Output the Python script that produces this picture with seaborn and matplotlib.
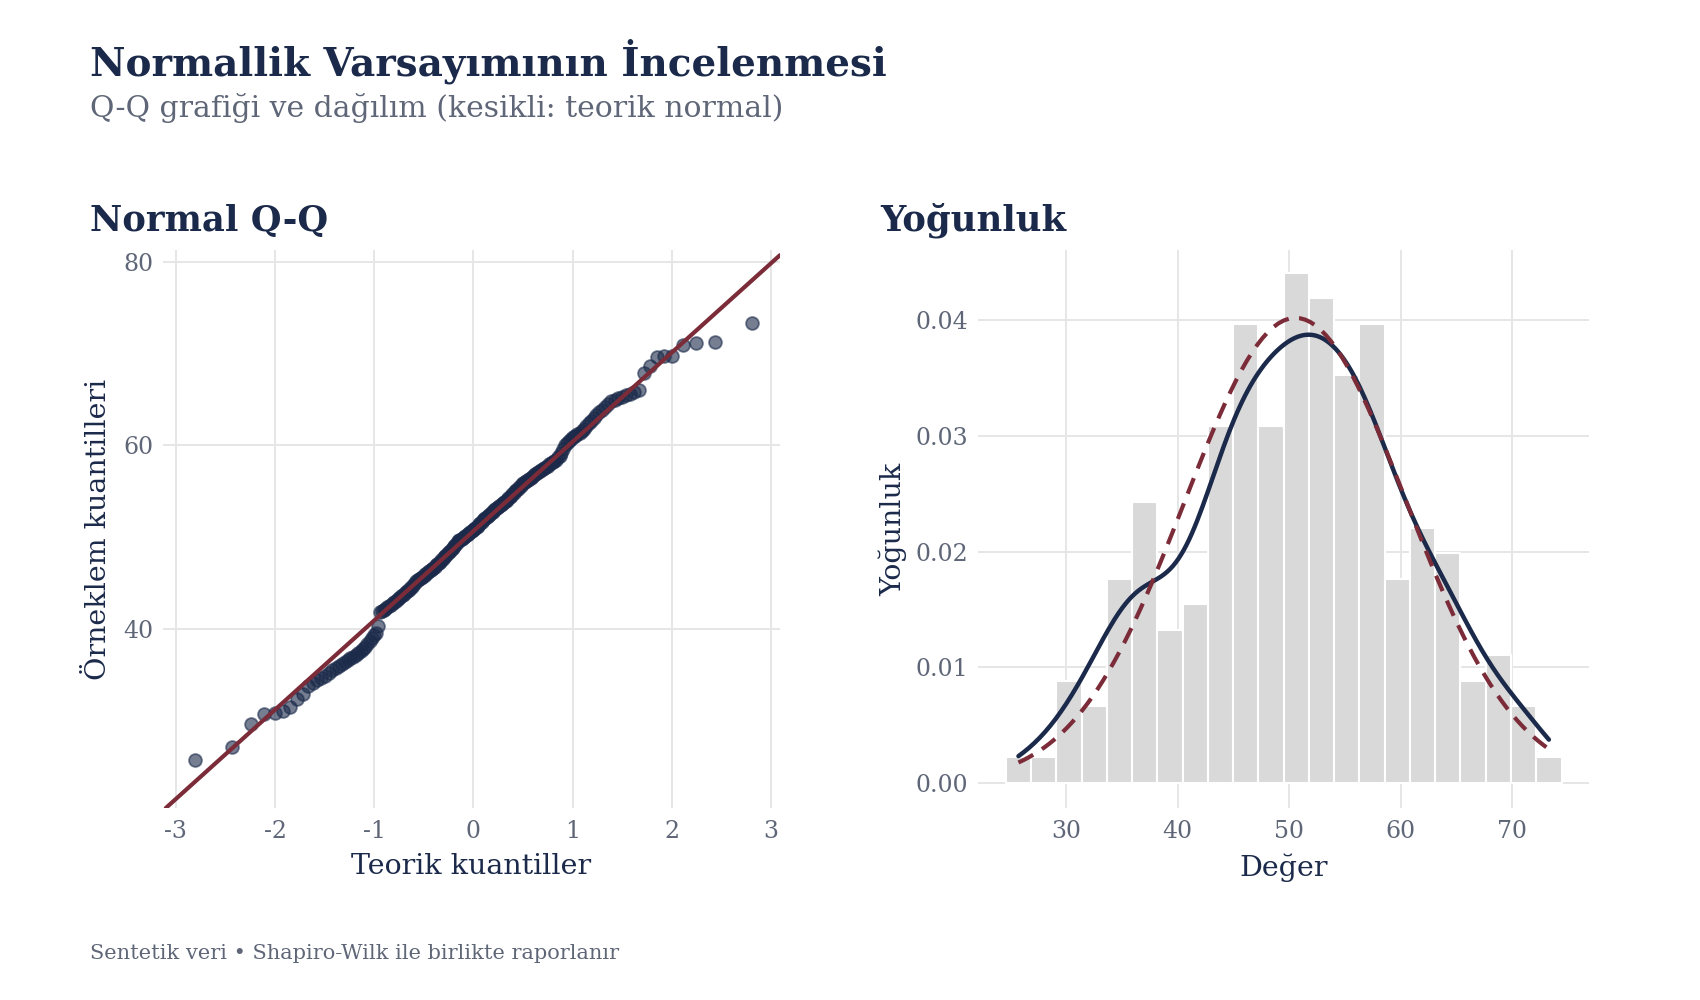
import numpy as np
import pandas as pd
import seaborn as sns
import matplotlib
matplotlib.use('Agg')
import matplotlib.pyplot as plt
from matplotlib.ticker import FormatStrFormatter
from statistics import NormalDist

values = [
    25.7, 27.1, 29.6, 30.7, 30.8, 31.1, 31.5, 32.4, 32.9,
    33.8, 34.1, 34.4, 34.7, 34.9, 35.2, 35.5, 35.8,
    36.0, 36.2, 36.4, 36.6, 36.8, 37.0, 37.2, 37.4, 37.6, 37.8, 38.0,
    38.4, 38.7, 39.0, 39.3, 39.6, 40.3,
    41.9, 42.0, 42.1, 42.2, 42.35, 42.5, 42.65,
    42.8, 42.95, 43.1, 43.25, 43.4, 43.55, 43.7, 43.85, 44.0, 44.15, 44.3, 44.45, 44.6, 44.8,
    45.05, 45.2, 45.3, 45.45, 45.55, 45.7, 45.8, 45.95, 46.05, 46.2, 46.3, 46.45, 46.55, 46.7,
    46.8, 46.95, 47.05, 47.15,
    47.35, 47.5, 47.65, 47.8, 47.95, 48.1, 48.25, 48.4, 48.55, 48.7, 48.85, 49.0, 49.2, 49.4,
    49.55, 49.65, 49.75, 49.85, 49.95, 50.05, 50.15, 50.3, 50.4, 50.5, 50.6, 50.7, 50.8, 50.9,
    51.0, 51.15, 51.25, 51.4, 51.55, 51.7,
    51.85, 51.95, 52.05, 52.2, 52.3, 52.45, 52.55, 52.7, 52.8, 52.95, 53.05, 53.15, 53.3, 53.4,
    53.5, 53.6, 53.75, 53.85, 53.95,
    54.1, 54.25, 54.4, 54.55, 54.7, 54.85, 55.0, 55.15, 55.3, 55.45, 55.6, 55.75, 55.9, 56.0,
    56.1, 56.2,
    56.4, 56.5, 56.6, 56.75, 56.85, 57.0, 57.1, 57.2, 57.35, 57.45, 57.6, 57.7, 57.8, 57.95,
    58.05, 58.2, 58.3, 58.45,
    58.7, 58.9, 59.2, 59.6, 60.0, 60.3, 60.5, 60.7,
    60.9, 61.0, 61.2, 61.4, 61.6, 61.8, 62.1, 62.4, 62.7, 63.0,
    63.3, 63.6, 63.9, 64.2, 64.5, 64.8, 65.0, 65.15, 65.3,
    65.45, 65.6, 65.8, 66.05,
    67.9, 68.7, 69.6, 69.7, 69.7,
    70.9, 71.2, 71.3,
    73.3,
]
n_bins = 22

title = 'Normallik Varsayımının İncelenmesi'
subtitle = 'Q-Q grafiği ve dağılım (kesikli: teorik normal)'
caption = 'Sentetik veri • Shapiro-Wilk ile birlikte raporlanır'

navy = '#1B2A4A'
wine = '#7B2C38'
muted = '#5E6677'

sns.set_theme(style='whitegrid', rc={'grid.color': '#E6E6E6', 'grid.linewidth': 1.4,
                                     'axes.edgecolor': 'white'})
plt.rcParams['font.family'] = ['DejaVu Serif']
plt.rcParams['axes.unicode_minus'] = False

x = np.sort(np.array(values))
n = len(x)
std_norm = NormalDist()
df = pd.DataFrame({'deger': x,
                   'teorik': [std_norm.inv_cdf((i + 0.5) / n) for i in range(n)]})

# reference line through the quartiles (like stat_qq_line)
q25, q75 = np.percentile(x, [25, 75])
z25, z75 = std_norm.inv_cdf(0.25), std_norm.inv_cdf(0.75)
slope = (q75 - q25) / (z75 - z25)
intercept = q25 - slope * z25

fig = plt.figure(figsize=(17, 10), dpi=100)
ax1 = fig.add_axes([163 / 1700, 0.192, 617 / 1700, 0.558])
ax2 = fig.add_axes([978 / 1700, 0.192, 611 / 1700, 0.558])

# --- Q-Q ---
sns.scatterplot(data=df, x='teorik', y='deger', ax=ax1, s=85, color=navy, alpha=0.6,
                edgecolor=navy, linewidth=1.3, zorder=3)
ax1.axline((0, intercept), slope=slope, color=wine, lw=3, zorder=4)
ax1.set_xlim(-3.13, 3.09)
ax1.set_ylim(20.5, 81.3)
ax1.set_xticks([-3, -2, -1, 0, 1, 2, 3])
ax1.set_yticks([40, 60, 80])
ax1.set_xlabel('Teorik kuantiller', fontsize=20.5, color=navy, labelpad=7)
ax1.set_ylabel('Örneklem kuantilleri', fontsize=20.5, color=navy, labelpad=8)

# --- density ---
w = (x.max() - x.min()) / (n_bins - 1)
sns.histplot(x=x, stat='density', bins=n_bins, binrange=(x.min() - w / 2, x.max() + w / 2),
             ax=ax2, color='#D9D9D9', edgecolor='white', linewidth=1.5, alpha=1, zorder=2)
sd = x.std(ddof=1)
iqr = q75 - q25
bw = 0.9 * min(sd, iqr / 1.34) * n ** -0.2
sns.kdeplot(x=x, bw_method=bw / sd, cut=0, ax=ax2, color=navy, lw=3.2, zorder=4)
grid = np.linspace(x.min(), x.max(), 101)
dist = NormalDist(x.mean(), sd)
sns.lineplot(x=grid, y=[dist.pdf(g) for g in grid], ax=ax2, color=wine, lw=3,
             linestyle=(0, (4, 2.5)), zorder=5)
ax2.set_xlim(22.07, 76.9)
ax2.set_ylim(-0.0022, 0.0461)
ax2.set_xticks([30, 40, 50, 60, 70])
ax2.set_yticks([0, 0.01, 0.02, 0.03, 0.04])
ax2.yaxis.set_major_formatter(FormatStrFormatter('%.2f'))
ax2.set_xlabel('Değer', fontsize=20.5, color=navy, labelpad=7)
ax2.set_ylabel('Yoğunluk', fontsize=20.5, color=navy, labelpad=6)

for ax in (ax1, ax2):
    ax.tick_params(axis='both', labelsize=17, labelcolor=muted, length=0)
    ax.tick_params(axis='x', pad=9)
    ax.tick_params(axis='y', pad=7)
    ax.grid(True, which='major')
    for s in ax.spines.values():
        s.set_visible(False)

fig.text(90 / 1700, 0.924, title, fontsize=28, fontweight='bold', color=navy, va='baseline')
fig.text(90 / 1700, 0.883, subtitle, fontsize=21.5, color=muted, va='baseline')
fig.text(90 / 1700, 0.769, 'Normal Q-Q', fontsize=25.5, fontweight='bold', color=navy, va='baseline')
fig.text(880 / 1700, 0.769, 'Yoğunluk', fontsize=25.5, fontweight='bold', color=navy, va='baseline')
fig.text(90 / 1700, 0.041, caption, fontsize=15, color=muted, va='baseline')

fig.savefig('out.png', dpi=100, facecolor='white')
